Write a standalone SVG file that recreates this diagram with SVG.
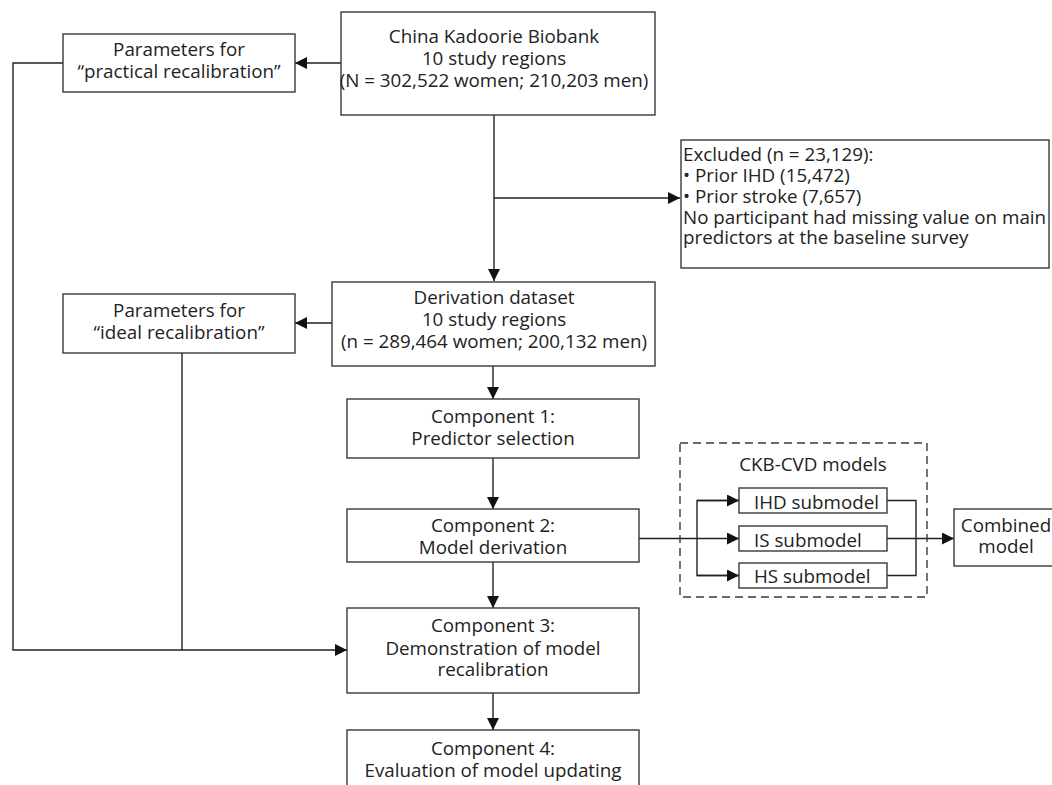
<svg xmlns="http://www.w3.org/2000/svg" width="1052" height="785" viewBox="0 0 1052 785">
<style>
.box{fill:#fff;stroke:#3a3a3a;stroke-width:1.4}
.dash{fill:none;stroke:#3a3a3a;stroke-width:1.4;stroke-dasharray:8 5}
.t{font-family:"Open Sans","Noto Sans",sans-serif;font-size:18.8px;fill:#222;text-anchor:middle}
.l{text-anchor:start}
.c line,.c polyline{stroke:#222;stroke-width:1.4;fill:none}
</style>
<defs>
<marker id="a" markerUnits="userSpaceOnUse" markerWidth="13" markerHeight="12" refX="12" refY="6" orient="auto">
<path d="M0,0 L12,6 L0,12 z" fill="#111"/>
</marker>
</defs>
<g class="c" id="connectors">
<line x1="341" y1="63" x2="295" y2="63" marker-end="url(#a)"/>
<polyline points="63,63 13,63 13,650 347,650" marker-end="url(#a)"/>
<line x1="494" y1="115" x2="494" y2="281" marker-end="url(#a)"/>
<line x1="494" y1="198" x2="680" y2="198" marker-end="url(#a)"/>
<line x1="332" y1="323" x2="295" y2="323" marker-end="url(#a)"/>
<line x1="182" y1="353" x2="182" y2="650"/>
<line x1="493" y1="366" x2="493" y2="399" marker-end="url(#a)"/>
<line x1="493" y1="458" x2="493" y2="509" marker-end="url(#a)"/>
<line x1="639" y1="538.5" x2="739" y2="538.5" marker-end="url(#a)"/>
<polyline points="739,500.5 697,500.5 697,575.5 739,575.5"/>
<line x1="697" y1="500.5" x2="739" y2="500.5" marker-end="url(#a)"/>
<line x1="697" y1="575.5" x2="739" y2="575.5" marker-end="url(#a)"/>
<polyline points="887,500.5 916,500.5 916,575.5 887,575.5"/>
<line x1="887" y1="538.5" x2="954" y2="538.5" marker-end="url(#a)"/>
<line x1="493" y1="562" x2="493" y2="608" marker-end="url(#a)"/>
<line x1="493" y1="693" x2="493" y2="730" marker-end="url(#a)"/>
</g>
<g id="ckb">
<rect class="box" x="341" y="12" width="314" height="103"/>
<text class="t" x="494" y="43">China Kadoorie Biobank</text>
<text class="t" x="494" y="65">10 study regions</text>
<text class="t" x="494" y="87">(N = 302,522 women; 210,203 men)</text>
</g>
<g id="practical">
<rect class="box" x="63" y="34" width="232" height="58"/>
<text class="t" x="179" y="56">Parameters for</text>
<text class="t" x="179" y="78">“practical recalibration”</text>
</g>
<g id="excluded">
<rect class="box" x="681" y="140" width="368" height="128"/>
<text class="t l" x="683" y="161">Excluded (n = 23,129):</text>
<text class="t l" x="683" y="182">• Prior IHD (15,472)</text>
<text class="t l" x="683" y="203">• Prior stroke (7,657)</text>
<text class="t l" x="683" y="223.5">No participant had missing value on main</text>
<text class="t l" x="683" y="244">predictors at the baseline survey</text>
</g>
<g id="derivation">
<rect class="box" x="332" y="282" width="323" height="84"/>
<text class="t" x="494" y="304">Derivation dataset</text>
<text class="t" x="494" y="326">10 study regions</text>
<text class="t" x="494" y="348">(n = 289,464 women; 200,132 men)</text>
</g>
<g id="ideal">
<rect class="box" x="63" y="294" width="232" height="59"/>
<text class="t" x="179" y="317">Parameters for</text>
<text class="t" x="179" y="339">“ideal recalibration”</text>
</g>
<g id="comp1">
<rect class="box" x="347" y="399" width="292" height="59"/>
<text class="t" x="493" y="423">Component 1:</text>
<text class="t" x="493" y="445">Predictor selection</text>
</g>
<g id="comp2">
<rect class="box" x="347" y="509" width="292" height="53"/>
<text class="t" x="493" y="532">Component 2:</text>
<text class="t" x="493" y="554">Model derivation</text>
</g>
<g id="cvd">
<rect class="dash" x="680" y="443" width="247" height="154"/>
<text class="t" x="813" y="471">CKB-CVD models</text>
</g>
<g id="ihd">
<rect class="box" x="739" y="488" width="148" height="25"/>
<text class="t l" x="754" y="509">IHD submodel</text>
</g>
<g id="is">
<rect class="box" x="739" y="526" width="148" height="25"/>
<text class="t l" x="754" y="546.5">IS submodel</text>
</g>
<g id="hs">
<rect class="box" x="739" y="563" width="148" height="25"/>
<text class="t l" x="754" y="583">HS submodel</text>
</g>
<g id="combined">
<rect class="box" x="954" y="509" width="104" height="57"/>
<text class="t" x="1006" y="531.5">Combined</text>
<text class="t" x="1006" y="553">model</text>
</g>
<g id="comp3">
<rect class="box" x="347" y="608" width="292" height="85"/>
<text class="t" x="493" y="632">Component 3:</text>
<text class="t" x="493" y="655">Demonstration of model</text>
<text class="t" x="493" y="676">recalibration</text>
</g>
<g id="comp4">
<rect class="box" x="347" y="730" width="292" height="70"/>
<text class="t" x="493" y="755">Component 4:</text>
<text class="t" x="493" y="777">Evaluation of model updating</text>
</g>
</svg>
